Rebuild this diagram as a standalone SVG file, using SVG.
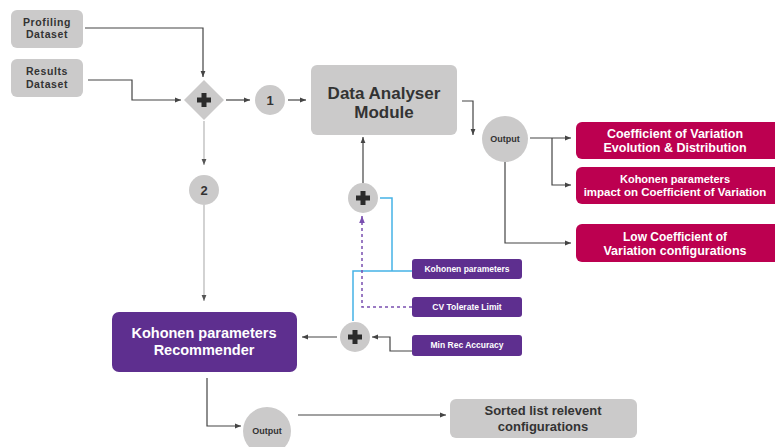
<svg xmlns="http://www.w3.org/2000/svg" width="775" height="447" viewBox="0 0 775 447">
<style>
.grey{fill:#cbcaca}
.purple{fill:#5e2f8f}
.crim{fill:#bc0050}
.t{font-family:"Liberation Sans",Arial,sans-serif;font-weight:bold;text-anchor:middle}
.dk{fill:#333}
.wh{fill:#fff}
.ln{fill:none;stroke:#444;stroke-width:1.2}
.lg{fill:none;stroke:#b5b5b5;stroke-width:1.2}
.bl{fill:none;stroke:#45b3e6;stroke-width:1.5}
.pd{fill:none;stroke:#7a4fb0;stroke-width:1.5;stroke-dasharray:3 3}
.plus{fill:#2b2b2b}
.ds{letter-spacing:0.6px}
</style>
<defs>
<marker id="ah" viewBox="0 0 10 10" refX="10" refY="5" markerWidth="6" markerHeight="6" orient="auto" markerUnits="userSpaceOnUse"><path d="M0,1 L10,5 L0,9 z" fill="#444"/></marker>
<marker id="ag" viewBox="0 0 10 10" refX="10" refY="5" markerWidth="6" markerHeight="6" orient="auto" markerUnits="userSpaceOnUse"><path d="M0,1 L10,5 L0,9 z" fill="#555"/></marker>
<marker id="ap" viewBox="0 0 10 10" refX="10" refY="5" markerWidth="7" markerHeight="7" orient="auto" markerUnits="userSpaceOnUse"><path d="M0,1 L10,5 L0,9 z" fill="#7a4fb0"/></marker>
<path id="plusShape" d="M-2.5,-7 H2.5 V-2.5 H7 V2.5 H2.5 V7 H-2.5 V2.5 H-7 V-2.5 H-2.5 Z"/>
</defs>
<rect width="775" height="447" fill="#fff"/>

<g id="connectors">
<path class="ln" d="M85,28 H203 V77" marker-end="url(#ah)"/>
<path class="ln" d="M88,80 H132 V100 H181" marker-end="url(#ah)"/>
<path class="ln" d="M226,100 H250" marker-end="url(#ah)"/>
<path class="ln" d="M288,100 H306" marker-end="url(#ah)"/>
<path class="lg" d="M204,121 V165" marker-end="url(#ag)"/>
<path class="lg" d="M204,205 V301" marker-end="url(#ag)"/>
<path class="ln" d="M363,183 V137" marker-end="url(#ah)"/>
<path class="ln" d="M462,101 H473 V135" marker-end="url(#ah)"/>
<path class="ln" d="M530,138 H571" marker-end="url(#ah)"/>
<path class="ln" d="M552,138 V185 H571" marker-end="url(#ah)"/>
<path class="ln" d="M505,162 V243 H571" marker-end="url(#ah)"/>
<path class="ln" d="M337,337 H302" marker-end="url(#ah)"/>
<path class="ln" d="M412,351 H390 V337 H372" marker-end="url(#ah)"/>
<path class="bl" d="M412,271 H353 V321"/>
<path class="bl" d="M392,271 V198 H380"/>
<path class="pd" d="M412,307 H362 V216" marker-end="url(#ap)"/>
<path class="ln" d="M207,378 V426 H241" marker-end="url(#ah)"/>
<path class="ln" d="M298,415 H446" marker-end="url(#ah)"/>
</g>

<g id="profiling">
<rect class="grey" x="11" y="10" width="72" height="38" rx="6"/>
<text class="t dk ds" x="47" y="26" font-size="10.5">Profiling</text>
<text class="t dk ds" x="47" y="38" font-size="10.5">Dataset</text>
</g>
<g id="results">
<rect class="grey" x="11" y="59" width="72" height="38" rx="6"/>
<text class="t dk ds" x="47" y="75" font-size="10.5">Results</text>
<text class="t dk ds" x="47" y="88" font-size="10.5">Dataset</text>
</g>
<g id="merge1">
<path class="grey" d="M204,80 L224,100 L204,120 L184,100 Z"/>
<use href="#plusShape" x="204" y="100" class="plus"/>
</g>
<g id="n1">
<circle class="grey" cx="270" cy="100" r="15"/>
<text class="t dk" x="270" y="105" font-size="13">1</text>
</g>
<g id="n2">
<circle class="grey" cx="204" cy="190" r="15"/>
<text class="t dk" x="204" y="195" font-size="13">2</text>
</g>
<g id="dam">
<rect class="grey" x="311" y="65" width="146" height="70" rx="6"/>
<text class="t dk" x="384" y="99" font-size="17">Data Analyser</text>
<text class="t dk" x="384" y="118" font-size="17">Module</text>
</g>
<g id="merge2">
<circle class="grey" cx="363" cy="198" r="15"/>
<use href="#plusShape" x="363" y="198" class="plus"/>
</g>
<g id="output1">
<circle class="grey" cx="505" cy="139" r="23"/>
<text class="t dk" x="505" y="142" font-size="9">Output</text>
</g>
<g id="cv1">
<rect class="crim" x="576" y="122" width="205" height="37" rx="6"/>
<text class="t wh" x="675" y="138" font-size="12.5">Coefficient of Variation</text>
<text class="t wh" x="675" y="152" font-size="12.5">Evolution &amp; Distribution</text>
</g>
<g id="cv2">
<rect class="crim" x="576" y="167" width="205" height="37" rx="6"/>
<text class="t wh" x="675" y="183" font-size="11">Kohonen parameters</text>
<text class="t wh" x="675" y="196" font-size="11.5">impact on Coefficient of Variation</text>
</g>
<g id="cv3">
<rect class="crim" x="576" y="224" width="205" height="38" rx="6"/>
<text class="t wh" x="675" y="241" font-size="12">Low Coefficient of</text>
<text class="t wh" x="675" y="255" font-size="12.5">Variation configurations</text>
</g>
<g id="kp">
<rect class="purple" x="412" y="259" width="110" height="20" rx="3"/>
<text class="t wh" x="467" y="272" font-size="8.5">Kohonen parameters</text>
</g>
<g id="cvt">
<rect class="purple" x="412" y="297" width="110" height="20" rx="3"/>
<text class="t wh" x="467" y="310" font-size="8.5">CV Tolerate Limit</text>
</g>
<g id="mra">
<rect class="purple" x="412" y="335" width="110" height="21" rx="3"/>
<text class="t wh" x="467" y="348" font-size="8.5">Min Rec Accuracy</text>
</g>
<g id="merge3">
<circle class="grey" cx="355" cy="337" r="15"/>
<use href="#plusShape" x="355" y="337" class="plus"/>
</g>
<g id="recommender">
<rect class="purple" x="112" y="312" width="185" height="60" rx="7"/>
<text class="t wh" x="204" y="338" font-size="14.5">Kohonen parameters</text>
<text class="t wh" x="204" y="355" font-size="14.5">Recommender</text>
</g>
<g id="output2">
<circle class="grey" cx="267" cy="431" r="24"/>
<text class="t dk" x="267" y="434" font-size="9">Output</text>
</g>
<g id="sorted">
<rect class="grey" x="450" y="399" width="187" height="39" rx="6"/>
<text class="t dk" x="543" y="415" font-size="13">Sorted list relevent</text>
<text class="t dk" x="543" y="431" font-size="13">configurations</text>
</g>
</svg>
